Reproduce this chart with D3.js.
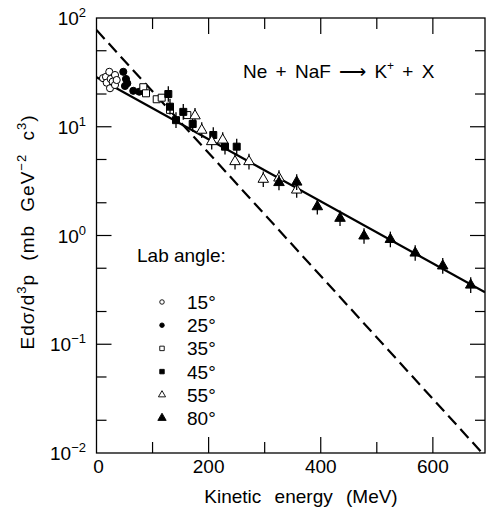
<!DOCTYPE html>
<html><head><meta charset="utf-8">
<script src="https://cdn.jsdelivr.net/npm/d3@7"></script>
<style>
html,body{margin:0;padding:0;background:#fff;}
svg{display:block;font-family:"Liberation Sans",Arial,Helvetica,sans-serif;}
</style></head>
<body><svg id="c" width="487" height="508"></svg>
<script>
// ---- data ----
const xTickValues = [0, 100, 200, 300, 400, 500, 600];
const xTickLabels = [0, 200, 400, 600];
const yDecadeExps = [2, 1, 0, -1, -2];
const yMinorMult = [2, 5];

// thermal-fit solid line and dashed line (endpoints, exponential in E)
const fitE = [0, 693];
const fitV = [28.5, 0.30];
const dashE = [0, 688];
const dashV = [77.5, 0.01];

// Lab angle 15 deg (open circles)
const e15 = [11.6, 16.9, 18.2, 22.8, 24.1, 25.3, 28.9, 33, 33, 36];
const v15 = [28, 28.8, 25.4, 32, 22.6, 27.5, 26, 29.9, 24.2, 26.9];
// 25 deg (filled circles)
const e25 = [47.8, 52.6, 54.9, 50.8, 65.6, 76.3, 83.5];
const v25 = [32, 27.5, 25.1, 23.7, 21.4, 21, 21.8];
// 35 deg (open squares)
const e35 = [83.5, 88.3, 107.4, 116.3, 131.1, 162];
const v35 = [23.1, 20.3, 17.9, 18.5, 14.3, 12.8];
// 45 deg (filled squares)
const e45 = [128.1, 131.1, 141.8, 154.8, 171.6, 208.3, 229.2, 250.1];
const v45 = [20, 15.3, 11.5, 13.7, 10.6, 8.4, 6.56, 6.56];
// 55 deg (open triangles)
const e55 = [175.7, 187.7, 205.5, 225.1, 247.1, 272, 297.5, 325.5, 357.1];
const v55 = [12.6, 9.3, 7.3, 7.55, 4.78, 4.78, 3.29, 3.38, 2.62];
// 80 deg (filled triangles)
const e80 = [325.5, 357.1, 393.9, 434.4, 477.2, 524.2, 568.5, 617.6, 667.5];
const v80 = [3.07, 3.1, 1.84, 1.44, 0.99, 0.92, 0.69, 0.525, 0.35];
// relative error bars
const err45 = 0.18, err55 = 0.18, err80 = 0.18;

const legendLabels = ["15°", "25°", "35°", "45°", "55°", "80°"];

// ---- drawing ----
const svg = d3.select("#c");
const L = 96.5, R = 485, T = 18, B = 453;
const x = d3.scaleLinear().domain([0, 693]).range([L, R]);
const y = d3.scaleLog().domain([0.01, 100]).range([B, T]);

const defs = svg.append("defs");
defs.append("clipPath").attr("id", "clip").append("rect")
  .attr("x", L).attr("y", T).attr("width", R - L).attr("height", B - T);

const FS = 19;

// frame
svg.append("rect").attr("x", L).attr("y", T).attr("width", R - L).attr("height", B - T)
  .attr("fill", "none").attr("stroke", "#000").attr("stroke-width", 1.3);

// x ticks (inside, bottom and top)
const xt = svg.append("g");
xTickValues.forEach(v => {
  const len = (v % 200 === 0) ? 16 : 11;
  if (v === 0) return;
  xt.append("line").attr("x1", x(v)).attr("x2", x(v)).attr("y1", B).attr("y2", B - len)
    .attr("stroke", "#000").attr("stroke-width", 1.2);
  xt.append("line").attr("x1", x(v)).attr("x2", x(v)).attr("y1", T).attr("y2", T + len)
    .attr("stroke", "#000").attr("stroke-width", 1.2);
});
xTickLabels.forEach(v => {
  svg.append("text").attr("x", x(v) + (v === 0 ? 2 : 0)).attr("y", 473)
    .attr("text-anchor", "middle").attr("font-size", FS).text(v);
});

// y ticks
const yt = svg.append("g");
yDecadeExps.forEach(p => {
  const v = Math.pow(10, p);
  if (p !== 2 && p !== -2) {
    yt.append("line").attr("x1", L).attr("x2", L + 15).attr("y1", y(v)).attr("y2", y(v)).attr("stroke", "#000").attr("stroke-width", 1.2);
    yt.append("line").attr("x1", R).attr("x2", R - 15).attr("y1", y(v)).attr("y2", y(v)).attr("stroke", "#000").attr("stroke-width", 1.2);
  }
  if (p > -2) {
    yMinorMult.forEach(m => {
      const mv = m * Math.pow(10, p - 1);
      yt.append("line").attr("x1", L).attr("x2", L + 10).attr("y1", y(mv)).attr("y2", y(mv)).attr("stroke", "#000").attr("stroke-width", 1.2);
      yt.append("line").attr("x1", R).attr("x2", R - 10).attr("y1", y(mv)).attr("y2", y(mv)).attr("stroke", "#000").attr("stroke-width", 1.2);
    });
  }
  const t = svg.append("text").attr("x", 86).attr("y", y(v) + 7)
    .attr("text-anchor", "end").attr("font-size", FS);
  t.append("tspan").text("10");
  t.append("tspan").attr("dy", -8).attr("font-size", 13).text(p < 0 ? "\u2212" + (-p) : String(p));
});

// lines
const lineGen = d3.line().x(d => x(d[0])).y(d => y(d[1]));
const plot = svg.append("g").attr("clip-path", "url(#clip)");
plot.append("path").datum(d3.zip(dashE, dashV)).attr("d", lineGen)
  .attr("fill", "none").attr("stroke", "#000").attr("stroke-width", 2.2).attr("stroke-dasharray", "12,6");
plot.append("path").datum(d3.zip(fitE, fitV)).attr("d", lineGen)
  .attr("fill", "none").attr("stroke", "#000").attr("stroke-width", 2.2);

// series
const series = [
  {e: e15, v: v15, type: d3.symbolCircle, size: 40, filled: false, err: 0},
  {e: e25, v: v25, type: d3.symbolCircle, size: 40, filled: true, err: 0},
  {e: e35, v: v35, type: d3.symbolSquare, size: 49, filled: false, err: 0},
  {e: e45, v: v45, type: d3.symbolSquare, size: 49, filled: true, err: err45},
  {e: e55, v: v55, type: d3.symbolTriangle, size: 48, filled: false, err: err55},
  {e: e80, v: v80, type: d3.symbolTriangle, size: 48, filled: true, err: err80}
];
const pts = svg.append("g");
series.forEach(s => {
  const data = d3.zip(s.e, s.v);
  if (s.err > 0) {
    pts.selectAll(null).data(data).enter().append("line")
      .attr("x1", d => x(d[0])).attr("x2", d => x(d[0]))
      .attr("y1", d => y(d[1] * (1 + s.err))).attr("y2", d => y(d[1] / (1 + s.err)))
      .attr("stroke", "#000").attr("stroke-width", 1.3);
  }
  pts.selectAll(null).data(data).enter().append("path")
    .attr("d", d3.symbol().type(s.type).size(s.size))
    .attr("transform", d => `translate(${x(d[0])},${y(d[1])})`)
    .attr("fill", s.filled ? "#000" : "#fff").attr("stroke", "#000").attr("stroke-width", 1);
});

// reaction label
const rt = svg.append("text").attr("x", 243).attr("y", 78).attr("font-size", FS).attr("word-spacing", 3);
rt.append("tspan").text("Ne + NaF ");
rt.append("tspan").text("\u27F6");
rt.append("tspan").text(" K");
rt.append("tspan").attr("dy", -8).attr("font-size", 12).text("+");
rt.append("tspan").attr("dy", 8).text(" + X");

// legend
svg.append("text").attr("x", 137).attr("y", 262).attr("font-size", FS).text("Lab angle:");
const legSizes = [16, 16, 20, 20, 22, 30];
series.forEach((s, i) => {
  const cy = 302 + i * 23.2;
  svg.append("path").attr("d", d3.symbol().type(s.type).size(legSizes[i]))
    .attr("transform", `translate(162,${cy})`)
    .attr("fill", s.filled ? "#000" : "#fff").attr("stroke", "#000").attr("stroke-width", 0.9);
  svg.append("text").attr("x", 187).attr("y", cy + 7).attr("font-size", FS).text(legendLabels[i]);
});

// axis titles
svg.append("text").attr("x", 301).attr("y", 503).attr("text-anchor", "middle")
  .attr("font-size", FS).attr("word-spacing", 8).text("Kinetic energy (MeV)");
const yl = svg.append("text").attr("transform", "translate(34,232) rotate(-90)")
  .attr("text-anchor", "middle").attr("font-size", FS).attr("letter-spacing", 1).attr("word-spacing", 7);
yl.append("tspan").text("Ed\u03C3/d");
yl.append("tspan").attr("dy", -8).attr("font-size", 13).text("3");
yl.append("tspan").attr("dy", 8).text("p (mb GeV");
yl.append("tspan").attr("dy", -8).attr("font-size", 13).text("\u22122");
yl.append("tspan").attr("dy", 8).text(" c");
yl.append("tspan").attr("dy", -8).attr("font-size", 13).text("3");
yl.append("tspan").attr("dy", 8).text(")");
</script></body></html>
